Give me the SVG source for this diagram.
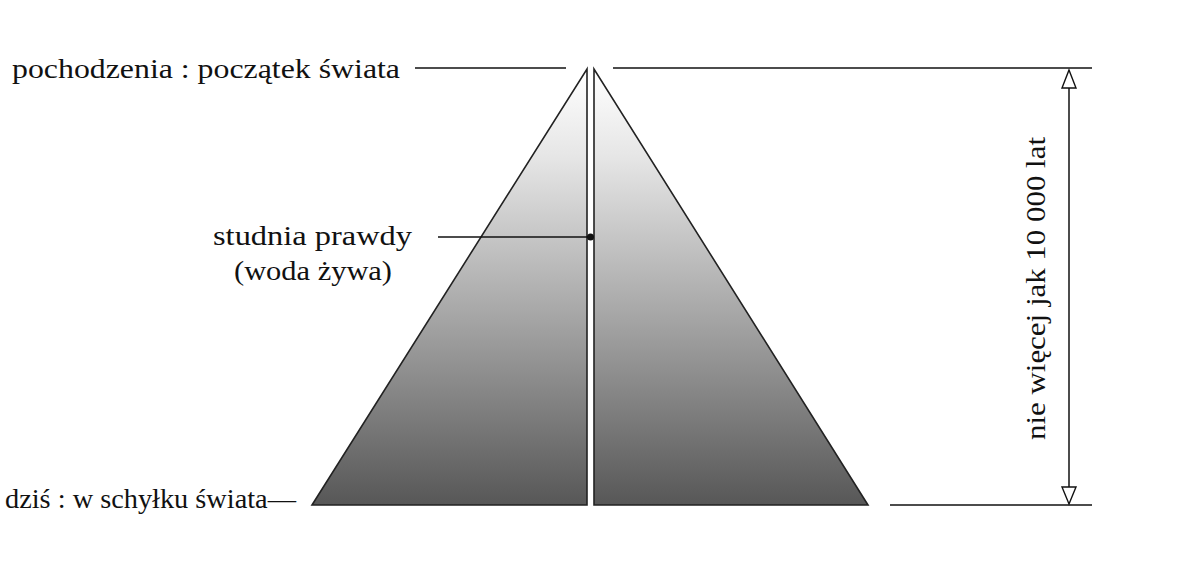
<svg xmlns="http://www.w3.org/2000/svg" width="1200" height="568" viewBox="0 0 1200 568">
<style>
.t{font-family:'Liberation Serif','Times New Roman','DejaVu Serif',serif;font-size:28px;fill:#111}
.ln{stroke:#111;stroke-width:1.5;fill:none}
.tri{stroke:#222;stroke-width:1.6;fill:url(#g)}
.ah{fill:#fff;stroke:#111;stroke-width:1.4}
</style>
<defs>
<linearGradient id="g" x1="0" y1="69" x2="0" y2="505" gradientUnits="userSpaceOnUse">
<stop offset="0" stop-color="#ffffff"/>
<stop offset="0.2" stop-color="#e6e6e6"/>
<stop offset="0.55" stop-color="#a9a9a9"/>
<stop offset="1" stop-color="#575757"/>
</linearGradient>
</defs>
<g id="pyramid-left"><polygon class="tri" points="587,69 587,505 312,505"/></g>
<g id="pyramid-right"><polygon class="tri" points="594,69 594,505 868,505"/></g>
<g id="connectors">
<line class="ln" x1="415" y1="68" x2="566" y2="68"/>
<line class="ln" x1="613" y1="68" x2="1092" y2="68"/>
<line class="ln" x1="890" y1="505" x2="1092" y2="505"/>
<line class="ln" x1="438" y1="237" x2="590" y2="237"/>
<circle cx="590.5" cy="237" r="3.5" fill="#111"/>
<line class="ln" x1="1069" y1="88" x2="1069" y2="487"/>
<polygon class="ah" points="1069,70 1076,88 1062,88"/>
<polygon class="ah" points="1069,504 1076,487 1062,487"/>
</g>
<g id="label-top"><text class="t" x="12" y="78" textLength="388" lengthAdjust="spacingAndGlyphs">pochodzenia : początek świata</text></g>
<g id="label-mid"><text class="t" x="213" y="245" textLength="199" lengthAdjust="spacingAndGlyphs">studnia prawdy</text>
<text class="t" x="234" y="280" textLength="158" lengthAdjust="spacingAndGlyphs">(woda żywa)</text></g>
<g id="label-bottom"><text class="t" x="5" y="508" textLength="291" lengthAdjust="spacingAndGlyphs">dziś : w schyłku świata—</text></g>
<g id="label-span"><text class="t" transform="translate(1045,440) rotate(-90)" x="0" y="0" textLength="303" lengthAdjust="spacingAndGlyphs">nie więcej jak 10 000 lat</text></g>
</svg>
